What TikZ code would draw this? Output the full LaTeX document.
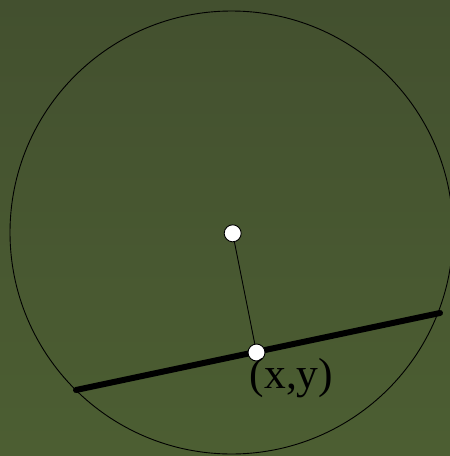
\documentclass[tikz,border=0pt]{standalone}
\usepackage{fontspec}
\setmainfont{Liberation Serif}
\begin{document}
\begin{tikzpicture}[x=1pt,y=-1pt,
  dot/.style={circle,draw=black,fill=white,line width=0.9pt,minimum size=17pt,inner sep=0pt},
  thin line/.style={draw=black,line width=0.9pt},
  chord/.style={draw=black,line width=6pt,line cap=round}]
\shade[top color={rgb,255:red,67;green,80;blue,47},bottom color={rgb,255:red,76;green,94;blue,50}] (0,0) rectangle (450,456);
\useasboundingbox (0,0) rectangle (450,456);
\draw[thin line] (231.5,232.5) circle (221.5);
\coordinate (A) at (76,390);
\coordinate (B) at (440,313);
\draw[chord] (A) -- (B);
\node[dot] (c) at (232.7,233.3) {};
\node[dot] (p) at (256.5,352.5) {};
\draw[thin line] (c) -- (p);
\node[anchor=base,font=\fontsize{43.5}{48}\selectfont,inner sep=0pt] (lbl) at (291.5,388.5) {(x,y)};
\end{tikzpicture}
\end{document}
